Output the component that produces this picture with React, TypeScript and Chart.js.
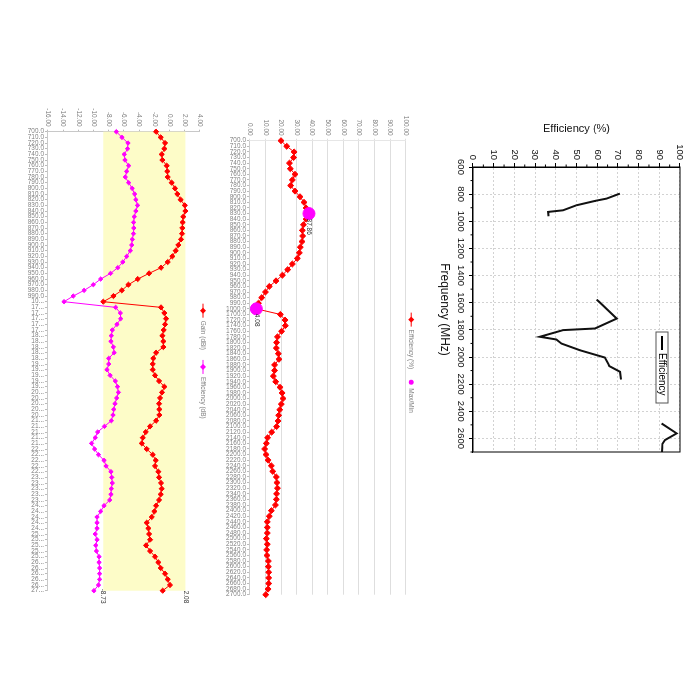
import React, { useEffect, useRef } from 'react';
import { Chart, registerables } from 'chart.js';

Chart.register(...registerables);

// ---------- Chart 1: Efficiency (%) vs Frequency (MHz) ----------
const effFreqMHz = [796, 833, 850, 882, 919, 931, 963, 1200, 1577, 1594, 1717, 1790, 1802, 1851, 1871, 1901, 1950, 2004, 2048, 2067, 2109, 2166, 2300, 2490, 2563, 2612, 2640, 2700];
const effPercent = [71, 64.5, 58.9, 50, 43.5, 36.3, 36.5, null, 59.7, 61, 69.4, 58.9, 43.5, 32.3, 40.3, 42.7, 51.6, 63.7, 65.3, 65.8, 71, 71.5, null, 91.1, 98.4, 92.7, 91.5, 91.3];
const freqTickValues = [600, 800, 1000, 1200, 1400, 1600, 1800, 2000, 2200, 2400, 2600];

// ---------- Charts 2 & 3: band measurements ----------
const bandFreqs = [
  700, 710, 720, 730, 740, 750, 760, 770, 780, 790, 800, 810, 820, 830, 840, 850, 860, 870, 880, 890,
  900, 910, 920, 930, 940, 950, 960, 970, 980, 990, 1000,
  1700, 1720, 1740, 1760, 1780, 1800, 1820, 1840, 1860, 1880, 1900, 1920, 1940, 1960, 1980, 2000,
  2020, 2040, 2060, 2080, 2100, 2120, 2140, 2160, 2180, 2200, 2220, 2240, 2260, 2280, 2300, 2320,
  2340, 2360, 2380, 2400, 2420, 2440, 2460, 2480, 2500, 2520, 2540, 2560, 2580, 2600, 2620, 2640,
  2660, 2680, 2700,
];
const bandEffPct = [
  19.9, 23.6, 28.3, 28.0, 25.3, 25.9, 28.9, 27.2, 26.1, 28.9, 32.1, 34.7, 36.0, 37.86, 36.0, 34.3, 33.6, 33.8, 33.4, 32.3,
  31.7, 30.4, 27.2, 24.2, 20.8, 16.7, 12.4, 9.9, 7.5, 5.4, 4.08,
  19.5, 22.5, 22.7, 20.3, 17.6, 17.1, 16.9, 18.2, 18.6, 15.8, 15.8, 15.0, 16.5, 19.3, 20.6, 21.2,
  20.1, 19.1, 18.4, 18.0, 17.1, 13.9, 11.3, 10.5, 9.4, 10.3, 11.6, 13.7, 14.6, 16.9, 17.3, 17.6,
  17.1, 16.9, 16.3, 13.7, 12.4, 11.1, 11.1, 11.1, 10.5, 11.1, 10.7, 10.9, 11.8, 11.8, 12.0, 12.0,
  12.0, 11.6, 10.1,
];
const bandEffDb = [
  -7.01, -6.27, -5.48, -5.53, -5.97, -5.87, -5.39, -5.65, -5.83, -5.39, -4.93, -4.60, -4.44, -4.22, -4.44, -4.65, -4.74, -4.71, -4.76, -4.91,
  -4.99, -5.17, -5.65, -6.16, -6.82, -7.77, -9.07, -10.04, -11.25, -12.68, -13.89,
  -7.10, -6.48, -6.44, -6.93, -7.54, -7.67, -7.72, -7.40, -7.30, -8.01, -8.01, -8.24, -7.83, -7.14, -6.86, -6.74,
  -6.97, -7.19, -7.35, -7.45, -7.67, -8.57, -9.47, -9.79, -10.27, -9.87, -9.36, -8.63, -8.36, -7.72, -7.62, -7.54,
  -7.67, -7.72, -7.88, -8.63, -9.07, -9.55, -9.55, -9.55, -9.79, -9.55, -9.71, -9.63, -9.28, -9.28, -9.21, -9.21,
  -9.21, -9.36, -9.96,
];
const bandGainDbi = [
  -1.78, -1.17, -0.60, -0.69, -1.04, -0.95, -0.38, -0.30, -0.25, 0.27, 0.71, 1.02, 1.45, 2.00, 2.08, 1.80, 1.71, 1.67, 1.63, 1.50,
  1.15, 0.80, 0.36, -0.25, -1.13, -2.70, -4.19, -5.42, -6.29, -7.39, -8.73,
  -1.13, -0.69, -0.47, -0.60, -0.78, -0.95, -0.82, -0.82, -1.78, -2.14, -2.22, -2.22, -1.92, -1.39, -0.69, -1.00,
  -1.26, -1.39, -1.35, -1.35, -1.78, -2.57, -3.14, -3.53, -3.66, -3.01, -2.22, -1.83, -1.92, -1.48, -1.39, -1.13,
  -1.04, -1.17, -1.39, -1.78, -2.00, -2.35, -3.01, -2.79, -2.70, -2.57, -3.10, -2.57, -1.92, -1.48, -1.17, -0.60,
  -0.25, 0.05, -0.91,
];

const FONT = '"Liberation Sans", Arial, Helvetica, sans-serif';
const SMALL = 6.5;
const GRAY_TEXT = '#808080';

type LegendItem = { label: string; color: string; line: boolean; marker: 'diamond' | 'dot' };

function drawMarker(ctx: CanvasRenderingContext2D, kind: string, x: number, y: number, r: number, color: string) {
  ctx.fillStyle = color;
  ctx.beginPath();
  if (kind === 'diamond') {
    ctx.moveTo(x, y - r);
    ctx.lineTo(x + r, y);
    ctx.lineTo(x, y + r);
    ctx.lineTo(x - r, y);
    ctx.closePath();
  } else {
    ctx.arc(x, y, r, 0, Math.PI * 2);
  }
  ctx.fill();
}

function drawLegend(ctx: CanvasRenderingContext2D, items: LegendItem[], cx: number, cy: number) {
  ctx.save();
  ctx.font = `${SMALL}px ${FONT}`;
  ctx.textBaseline = 'middle';
  ctx.textAlign = 'left';
  const gap = 3;
  const between = 10;
  const widths = items.map((it) => (it.line ? 14 : 6) + gap + ctx.measureText(it.label).width);
  const total = widths.reduce((a, b) => a + b, 0) + between * (items.length - 1);
  let x = cx - total / 2;
  items.forEach((it, i) => {
    const sw = it.line ? 14 : 6;
    if (it.line) {
      ctx.strokeStyle = it.color;
      ctx.lineWidth = 1;
      ctx.beginPath();
      ctx.moveTo(x, cy);
      ctx.lineTo(x + sw, cy);
      ctx.stroke();
    }
    drawMarker(ctx, it.marker, x + sw / 2, cy, it.marker === 'dot' ? 2.5 : 3, it.color);
    ctx.fillStyle = GRAY_TEXT;
    ctx.fillText(it.label, x + sw + gap, cy);
    x += widths[i] + between;
  });
  ctx.restore();
}

export default function App() {
  const c1 = useRef<HTMLCanvasElement>(null);
  const c2 = useRef<HTMLCanvasElement>(null);
  const c3 = useRef<HTMLCanvasElement>(null);

  useEffect(() => {
    Chart.defaults.font.family = FONT;
    const labels = bandFreqs.map((f) => f.toFixed(1));

    // ---------- Chart 1 ----------
    const chart1Plugin = {
      id: 'frame1',
      afterDraw(chart: any) {
        const { ctx, chartArea: a, scales } = chart;
        const x = scales.x;
        const y = scales.y;
        ctx.save();
        ctx.strokeStyle = '#000';
        ctx.lineWidth = 1;
        ctx.strokeRect(a.left, a.top, a.width, a.height);
        ctx.beginPath();
        for (let i = 0; i < freqTickValues.length; i++) {
          const px = x.getPixelForValue(freqTickValues[i] + 100);
          ctx.moveTo(px, a.bottom);
          ctx.lineTo(px, a.bottom + 2.5);
        }
        for (let v = 5; v < 100; v += 10) {
          const py = y.getPixelForValue(v);
          ctx.moveTo(a.left, py);
          ctx.lineTo(a.left - 2.5, py);
        }
        ctx.stroke();
        // legend box
        const bx = a.right - 120;
        const by = a.top + 12;
        ctx.fillStyle = '#fff';
        ctx.fillRect(bx, by, 71, 12);
        ctx.strokeStyle = '#555';
        ctx.strokeRect(bx, by, 71, 12);
        ctx.strokeStyle = '#000';
        ctx.lineWidth = 2;
        ctx.beginPath();
        ctx.moveTo(bx + 4, by + 6);
        ctx.lineTo(bx + 18, by + 6);
        ctx.stroke();
        ctx.fillStyle = '#000';
        ctx.font = `10px ${FONT}`;
        ctx.textBaseline = 'middle';
        ctx.fillText('Efficiency', bx + 21, by + 6.5);
        ctx.restore();
      },
    };

    const chart1 = new Chart(c1.current!, {
      type: 'line',
      data: {
        datasets: [
          {
            label: 'Efficiency',
            data: effFreqMHz.map((f, i) => ({ x: f, y: effPercent[i] })),
            borderColor: '#111',
            borderWidth: 2,
            pointRadius: 0,
            spanGaps: false,
            tension: 0,
          },
        ],
      },
      options: {
        responsive: false,
        animation: false,
        devicePixelRatio: 1,
        layout: { padding: { top: 20, right: 28, left: 0, bottom: 0 } },
        plugins: { legend: { display: false }, tooltip: { enabled: false } },
        scales: {
          x: {
            type: 'linear',
            min: 600,
            max: 2700,
            ticks: {
              color: '#111',
              font: { size: 9.5 },
              maxRotation: 0,
              autoSkip: false,
              padding: 3,
              callback: (v: any) => String(v),
            },
            afterBuildTicks: (s: any) => {
              s.ticks = freqTickValues.map((v) => ({ value: v }));
            },
            grid: { color: '#d2d2d2', tickColor: '#000', tickLength: 4 },
            border: { color: '#000', dash: [2, 2] },
            title: { display: true, text: 'Frequency (MHz)', color: '#111', font: { size: 12 }, padding: { top: 0, bottom: 17 } },
            afterFit: (s: any) => {
              s.height = 53;
            },
          },
          y: {
            min: 0,
            max: 100,
            ticks: { stepSize: 10, color: '#111', font: { size: 9.5 }, padding: 3, callback: (v: any) => String(v) },
            grid: { color: '#d2d2d2', tickColor: '#000', tickLength: 4 },
            border: { color: '#000', dash: [2, 2] },
            title: { display: true, text: 'Efficiency (%)', color: '#111', font: { size: 11 }, padding: { top: 22, bottom: 0 } },
            afterFit: (s: any) => {
              s.width = 67;
            },
          },
        },
      },
      plugins: [chart1Plugin],
    });

    // ---------- Chart 2 ----------
    const maxIdx = bandEffPct.indexOf(Math.max(...bandEffPct));
    const minIdx = bandEffPct.indexOf(Math.min(...bandEffPct));
    const maxMin = bandEffPct.map((v, i) => (i === maxIdx || i === minIdx ? v : null));

    const chart2Plugin = {
      id: 'extras2',
      afterDraw(chart: any) {
        const { ctx, chartArea: a, scales } = chart;
        drawLegend(
          ctx,
          [
            { label: 'Efficiency (%)', color: '#ff0000', line: true, marker: 'diamond' },
            { label: 'Max/Min', color: '#ff00ff', line: false, marker: 'dot' },
          ],
          (a.left + a.right) / 2 - 5,
          a.top - 5.5
        );
        ctx.save();
        ctx.font = `${SMALL}px ${FONT}`;
        ctx.fillStyle = '#333';
        ctx.textBaseline = 'middle';
        ctx.textAlign = 'left';
        [maxIdx, minIdx].forEach((i) => {
          const px = scales.x.getPixelForValue(i);
          const py = scales.y.getPixelForValue(bandEffPct[i]);
          ctx.fillText(bandEffPct[i].toFixed(2), px + 5, py);
        });
        ctx.restore();
      },
    };

    const chart2 = new Chart(c2.current!, {
      type: 'line',
      data: {
        labels,
        datasets: [
          {
            label: 'Max/Min',
            data: maxMin,
            showLine: false,
            pointRadius: 6,
            pointStyle: 'circle',
            pointBackgroundColor: '#ff00ff',
            pointBorderColor: '#ff00ff',
            borderColor: '#ff00ff',
            order: 0,
          },
          {
            label: 'Efficiency (%)',
            data: bandEffPct,
            borderColor: '#ff0000',
            borderWidth: 1,
            pointStyle: 'rectRot',
            pointRadius: 3,
            pointBackgroundColor: '#ff0000',
            pointBorderColor: '#ff0000',
            tension: 0,
            order: 1,
          },
        ],
      },
      options: {
        responsive: false,
        animation: false,
        devicePixelRatio: 1,
        layout: { padding: { top: 24.3, right: 105.3, left: 0, bottom: 0 } },
        plugins: { legend: { display: false }, tooltip: { enabled: false } },
        scales: {
          x: {
            type: 'category',
            ticks: { autoSkip: false, minRotation: 90, maxRotation: 90, font: { size: SMALL }, color: GRAY_TEXT, padding: 1 },
            grid: { drawOnChartArea: false, tickLength: 3, color: '#bbb' },
            border: { color: '#ccc' },
            afterFit: (s: any) => {
              s.height = 30;
            },
          },
          y: {
            min: 0,
            max: 100,
            ticks: { stepSize: 10, font: { size: SMALL }, color: GRAY_TEXT, padding: 3, callback: (v: any) => Number(v).toFixed(2) },
            grid: { color: '#dedede', tickLength: 2 },
            border: { display: true, color: '#e6e6e6' },
            afterFit: (s: any) => {
              s.width = 140.7;
            },
          },
        },
      },
      plugins: [chart2Plugin],
    });

    // ---------- Chart 3 ----------
    const gainMax = Math.max(...bandGainDbi);
    const gainMin = Math.min(...bandGainDbi);

    const chart3Plugin = {
      id: 'extras3',
      beforeDatasetsDraw(chart: any) {
        const { ctx, chartArea: a, scales } = chart;
        const yTop = scales.y.getPixelForValue(gainMax);
        const yBot = scales.y.getPixelForValue(gainMin);
        ctx.save();
        ctx.fillStyle = '#fdfcc8';
        ctx.fillRect(a.left, yTop, a.right - a.left, yBot - yTop);
        ctx.restore();
      },
      afterDraw(chart: any) {
        const { ctx, chartArea: a, scales } = chart;
        drawLegend(
          ctx,
          [
            { label: 'Gain (dBi)', color: '#ff0000', line: true, marker: 'diamond' },
            { label: 'Efficiency (dB)', color: '#ff00ff', line: true, marker: 'diamond' },
          ],
          (a.left + a.right) / 2,
          a.top - 3
        );
        ctx.save();
        ctx.font = `${SMALL}px ${FONT}`;
        ctx.fillStyle = '#333';
        ctx.textBaseline = 'middle';
        ctx.textAlign = 'left';
        ctx.fillText(gainMin.toFixed(2), a.right - 2, scales.y.getPixelForValue(gainMin));
        ctx.fillText(gainMax.toFixed(2), a.right, scales.y.getPixelForValue(gainMax));
        ctx.restore();
      },
    };

    const chart3 = new Chart(c3.current!, {
      type: 'line',
      data: {
        labels,
        datasets: [
          {
            label: 'Gain (dBi)',
            data: bandGainDbi,
            borderColor: '#ff0000',
            borderWidth: 1,
            pointStyle: 'rectRot',
            pointRadius: 2.6,
            pointBackgroundColor: '#ff0000',
            pointBorderColor: '#ff0000',
            tension: 0,
          },
          {
            label: 'Efficiency (dB)',
            data: bandEffDb,
            borderColor: '#ff00ff',
            borderWidth: 1,
            pointStyle: 'rectRot',
            pointRadius: 2.2,
            pointBackgroundColor: '#ff00ff',
            pointBorderColor: '#ff00ff',
            tension: 0,
          },
        ],
      },
      options: {
        responsive: false,
        animation: false,
        devicePixelRatio: 1,
        layout: { padding: { top: 20, right: 109.3, left: 0, bottom: 0 } },
        plugins: { legend: { display: false }, tooltip: { enabled: false } },
        scales: {
          x: {
            type: 'category',
            ticks: {
              autoSkip: false,
              minRotation: 90,
              maxRotation: 90,
              font: { size: SMALL },
              color: GRAY_TEXT,
              padding: 1,
              callback: function (this: any, value: any) {
                const l = this.getLabelForValue(value) as string;
                return l.length > 5 ? l.slice(0, 2) + '...' : l;
              },
            },
            grid: { drawOnChartArea: false, tickLength: 3, color: '#bbb' },
            border: { color: '#c8c8c8' },
            afterFit: (s: any) => {
              s.height = 48;
            },
          },
          y: {
            min: -16,
            max: 4,
            ticks: { stepSize: 2, font: { size: SMALL }, color: GRAY_TEXT, padding: 3, callback: (v: any) => Number(v).toFixed(2) },
            grid: { drawOnChartArea: false, tickLength: 2, color: '#bbb' },
            border: { color: '#c8c8c8' },
            afterFit: (s: any) => {
              s.width = 131.7;
            },
          },
        },
      },
      plugins: [chart3Plugin],
    });

    return () => {
      chart1.destroy();
      chart2.destroy();
      chart3.destroy();
    };
  }, []);

  return (
    <div
      style={{
        position: 'fixed',
        left: 0,
        top: 0,
        width: 700,
        height: 700,
        background: '#fff',
        transform: 'rotate(90deg)',
        transformOrigin: '350px 350px',
        overflow: 'hidden',
      }}
    >
      <canvas ref={c1} width={380} height={280} style={{ position: 'absolute', left: 100, top: 0 }} />
      <canvas ref={c2} width={700} height={210} style={{ position: 'absolute', left: 0, top: 270 }} />
      <canvas ref={c3} width={700} height={220} style={{ position: 'absolute', left: 0, top: 480 }} />
    </div>
  );
}
